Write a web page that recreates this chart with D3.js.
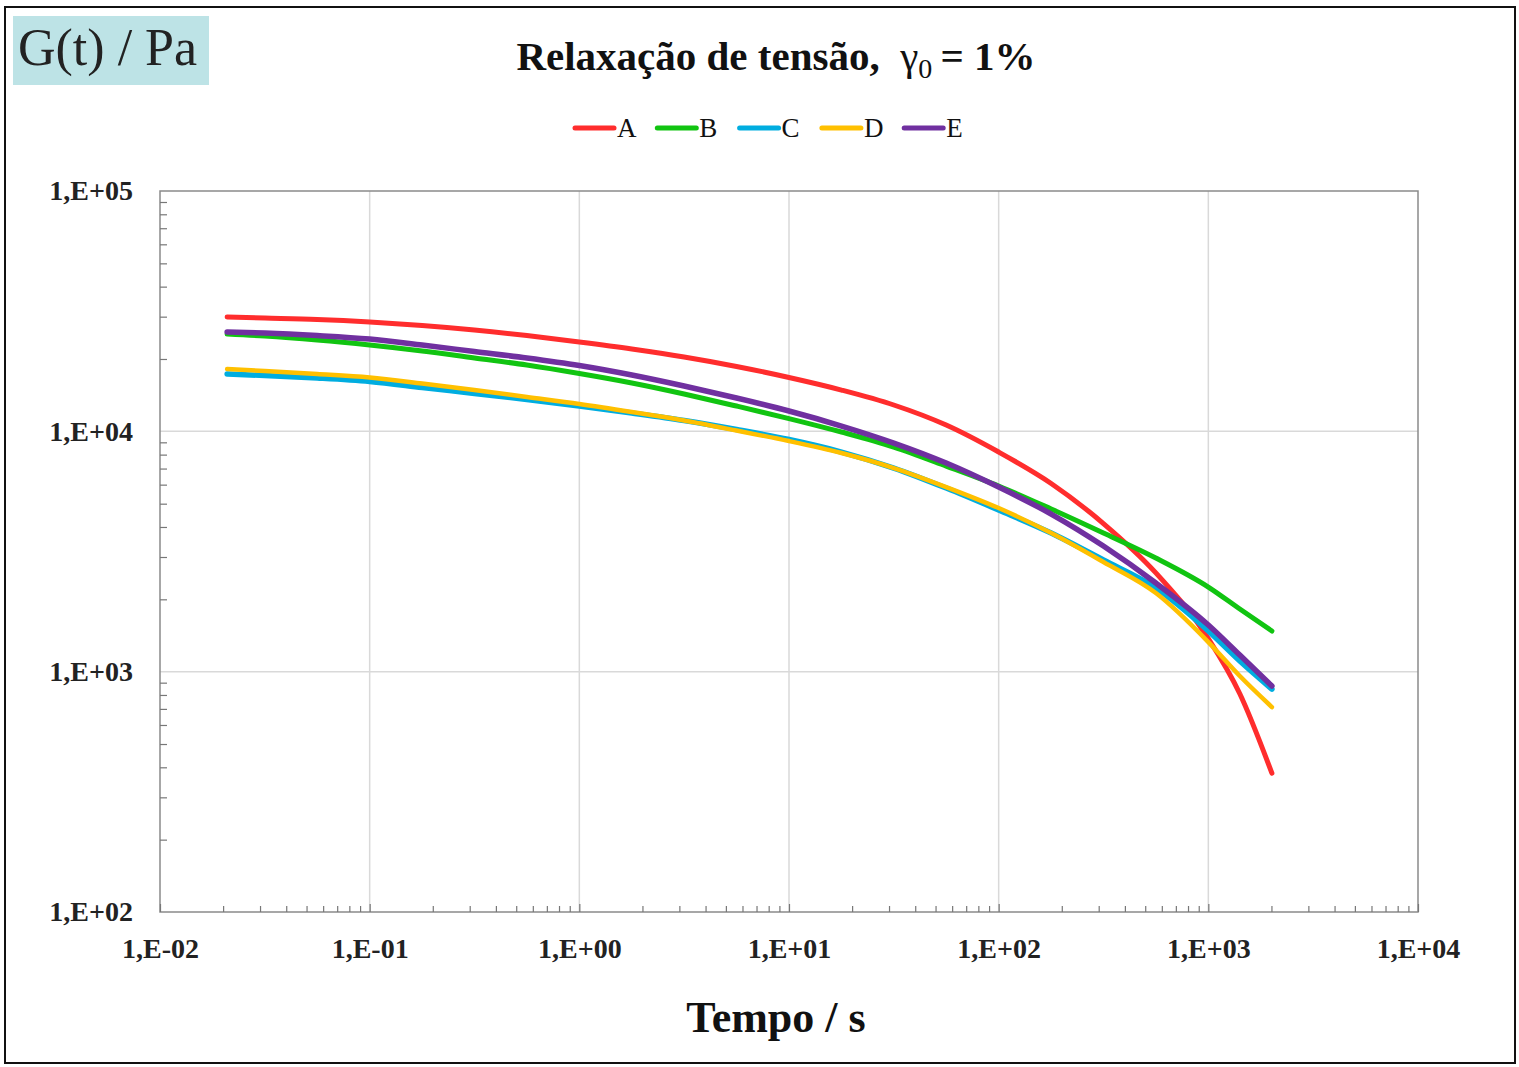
<!DOCTYPE html>
<html>
<head>
<meta charset="utf-8">
<script src="https://cdn.jsdelivr.net/npm/d3@7"></script>
<style>
  html, body { margin: 0; padding: 0; background: #ffffff; }
  svg { display: block; }
  text { font-family: "Liberation Serif", "DejaVu Serif", serif; }
</style>
</head>
<body>
<svg id="chart" width="1519" height="1067"></svg>
<script>
// ---------- data ----------
const times = [0.0209, 0.0316, 0.0562, 0.1, 0.178, 0.316, 0.562, 1, 1.78, 3.16, 5.62, 10, 17.8, 31.6, 56.2, 100, 178, 316, 562, 1000, 1413, 2010];
const seriesNames = ["A", "B", "C", "D", "E"];
const seriesColors = ["#ff2d2d", "#11c411", "#00ade0", "#ffc000", "#7030a0"];
const valuesA = [29900, 29610, 29190, 28500, 27560, 26400, 25040, 23530, 22000, 20380, 18610, 16750, 14850, 12870, 10620, 8200, 6070, 4134, 2577, 1372, 809, 378];
const valuesB = [25400, 24920, 23990, 22860, 21590, 20190, 18880, 17400, 15890, 14300, 12740, 11300, 9933, 8603, 7171, 5921, 4750, 3774, 2970, 2249, 1822, 1476];
const valuesC = [17320, 17070, 16665, 16115, 15220, 14365, 13566, 12740, 11916, 11090, 10174, 9244, 8200, 7035, 5808, 4704, 3774, 2914, 2228, 1476, 1107, 846];
const valuesD = [18166, 17820, 17320, 16750, 15810, 14850, 13890, 12990, 12030, 11090, 10077, 9112, 8123, 7035, 5864, 4795, 3774, 2858, 2124, 1328, 959, 712];
const valuesE = [25896, 25650, 25040, 24216, 22860, 21480, 20190, 18785, 17150, 15435, 13760, 12148, 10521, 8939, 7380, 5864, 4528, 3332, 2337, 1563, 1172, 871];
const seriesValues = [valuesA, valuesB, valuesC, valuesD, valuesE];
const xTickValues = [1e-2, 1e-1, 1e0, 1e1, 1e2, 1e3, 1e4];
const xTickLabels = ["1,E-02", "1,E-01", "1,E+00", "1,E+01", "1,E+02", "1,E+03", "1,E+04"];
const yTickValues = [1e2, 1e3, 1e4, 1e5];
const yTickLabels = ["1,E+02", "1,E+03", "1,E+04", "1,E+05"];
const titleMain = "Relaxação de tensão,";
const yAxisTitle = "G(t) / Pa";
const xAxisTitle = "Tempo / s";

// ---------- layout ----------
const svg = d3.select("#chart");
const plot = { left: 160, right: 1418, top: 191, bottom: 912 };

svg.append("rect").attr("x", 5).attr("y", 7).attr("width", 1510).attr("height", 1056)
  .attr("fill", "#fff").attr("stroke", "#111").attr("stroke-width", 2);

const x = d3.scaleLog().domain([1e-2, 1e4]).range([plot.left, plot.right]);
const y = d3.scaleLog().domain([1e2, 1e5]).range([plot.bottom, plot.top]);

const xMinor = [];
for (let e = -2; e < 4; e++) for (let k = 2; k <= 9; k++) xMinor.push(k * Math.pow(10, e));
const yMinor = [];
for (let e = 2; e < 5; e++) for (let k = 2; k <= 9; k++) yMinor.push(k * Math.pow(10, e));

// gridlines
const grid = svg.append("g");
grid.selectAll("line.gx").data(xTickValues.slice(1, -1)).enter().append("line")
  .attr("x1", d => x(d)).attr("x2", d => x(d)).attr("y1", plot.top).attr("y2", plot.bottom)
  .attr("stroke", "#d9d9d9").attr("stroke-width", 1.5);
grid.selectAll("line.gy").data(yTickValues.slice(1, -1)).enter().append("line")
  .attr("y1", d => y(d)).attr("y2", d => y(d)).attr("x1", plot.left).attr("x2", plot.right)
  .attr("stroke", "#d9d9d9").attr("stroke-width", 1.5);

// plot frame
svg.append("rect").attr("x", plot.left).attr("y", plot.top)
  .attr("width", plot.right - plot.left).attr("height", plot.bottom - plot.top)
  .attr("fill", "none").attr("stroke", "#8a8a8a").attr("stroke-width", 1.5);

// minor ticks (inside)
const gxm = svg.append("g").attr("transform", `translate(0,${plot.bottom})`)
  .call(d3.axisBottom(x).tickValues(xMinor).tickSize(-6).tickFormat(""));
gxm.select(".domain").remove();
gxm.selectAll("line").attr("stroke", "#777").attr("stroke-width", 1.2);

const gym = svg.append("g").attr("transform", `translate(${plot.left},0)`)
  .call(d3.axisLeft(y).tickValues(yMinor).tickSize(-7).tickFormat(""));
gym.select(".domain").remove();
gym.selectAll("line").attr("stroke", "#777").attr("stroke-width", 1.2);

// major axes with labels
const gx = svg.append("g").attr("transform", `translate(0,${plot.bottom})`)
  .call(d3.axisBottom(x).tickValues(xTickValues).tickSize(-8).tickPadding(26)
    .tickFormat((d, i) => xTickLabels[i]));
gx.select(".domain").remove();
gx.selectAll("line").attr("stroke", "#777").attr("stroke-width", 1.2);
gx.selectAll("text").attr("font-family", "Liberation Serif").attr("font-size", 28)
  .attr("font-weight", "bold").attr("fill", "#222");

const gy = svg.append("g").attr("transform", `translate(${plot.left},0)`)
  .call(d3.axisLeft(y).tickValues(yTickValues).tickSize(0).tickPadding(27)
    .tickFormat((d, i) => yTickLabels[i]));
gy.select(".domain").remove();
gy.selectAll("text").attr("font-family", "Liberation Serif").attr("font-size", 28)
  .attr("font-weight", "bold").attr("fill", "#222");

// lines
const line = d3.line().x(d => x(d[0])).y(d => y(d[1])).curve(d3.curveMonotoneX);
const widths = [5, 5, 5.5, 4.5, 5.5];
seriesValues.forEach((vals, i) => {
  const pts = times.map((t, j) => [t, vals[j]]);
  svg.append("path").datum(pts).attr("d", line)
    .attr("fill", "none").attr("stroke", seriesColors[i]).attr("stroke-width", widths[i])
    .attr("stroke-linecap", "round").attr("stroke-linejoin", "round");
});

// title
const title = svg.append("text").attr("x", 776).attr("y", 70).attr("text-anchor", "middle")
  .attr("font-size", 41).attr("font-weight", "bold").attr("fill", "#111");
title.append("tspan").text(titleMain + "\u00a0\u00a0");
title.append("tspan").attr("font-weight", "normal").text("γ");
title.append("tspan").attr("font-size", 28).attr("font-weight", "normal").attr("dy", 8).text("0");
title.append("tspan").attr("dy", -8).text("\u2009= 1%");

// legend
const legend = svg.append("g");
seriesNames.forEach((n, i) => {
  const lx = 573 + i * 82.3;
  legend.append("line").attr("x1", lx + 2).attr("x2", lx + 41).attr("y1", 128).attr("y2", 128)
    .attr("stroke", seriesColors[i]).attr("stroke-width", 5).attr("stroke-linecap", "round");
  legend.append("text").attr("x", lx + 44).attr("y", 137).attr("font-size", 27)
    .attr("fill", "#111").text(n);
});

// y-axis title box
svg.append("rect").attr("x", 13).attr("y", 16).attr("width", 196).attr("height", 69).attr("fill", "#bde3e6");
svg.append("text").attr("x", 18).attr("y", 65).attr("font-size", 52).attr("fill", "#222").text(yAxisTitle);

// x-axis title
svg.append("text").attr("x", 776).attr("y", 1032).attr("text-anchor", "middle")
  .attr("font-size", 44).attr("font-weight", "bold").attr("fill", "#111").text(xAxisTitle);
</script>
</body>
</html>
